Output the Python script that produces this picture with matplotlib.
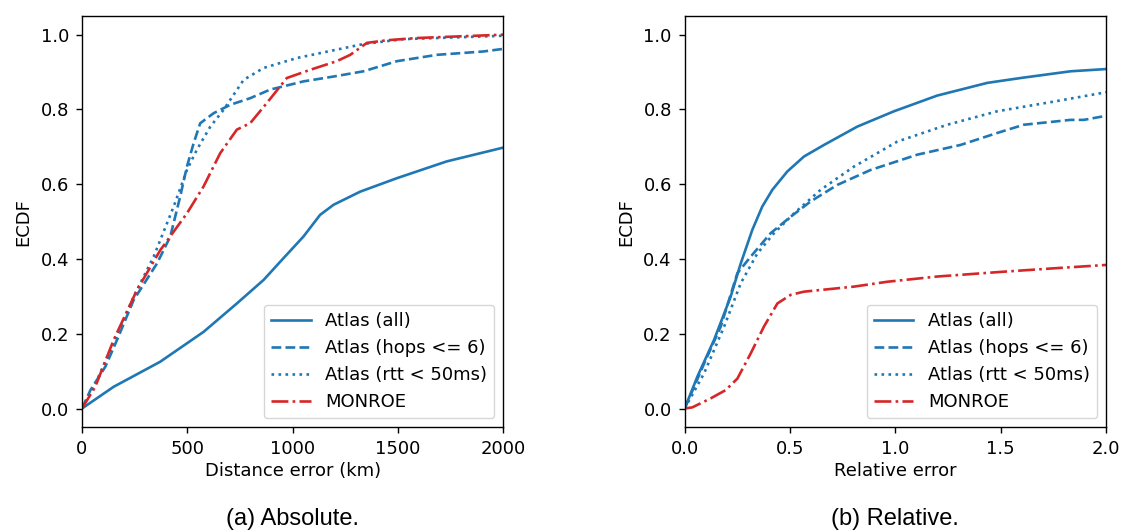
import matplotlib
matplotlib.use("Agg")
import matplotlib.pyplot as plt

# Absolute distance error (km) -> ECDF
abs_all_x = [0, 150, 371, 577, 735, 862, 956, 1051, 1130, 1194, 1320, 1494, 1731, 2000]
abs_all_y = [0, 0.058, 0.125, 0.205, 0.281, 0.344, 0.402, 0.46, 0.518, 0.545, 0.58, 0.616, 0.661, 0.698]

abs_hops_x = [0, 40, 111, 166, 245, 356, 419, 466, 498, 530, 561, 625, 704, 798, 893, 1051,
              1194, 1336, 1494, 1684, 1905, 2000]
abs_hops_y = [0, 0.049, 0.112, 0.183, 0.29, 0.388, 0.46, 0.567, 0.647, 0.71, 0.763, 0.79, 0.8125,
              0.83, 0.853, 0.875, 0.888, 0.902, 0.929, 0.946, 0.955, 0.962]

abs_rtt_x = [0, 71, 150, 245, 340, 435, 498, 545, 609, 672, 767, 862, 1020, 1209, 1336, 1526, 2000]
abs_rtt_y = [0, 0.076, 0.174, 0.299, 0.406, 0.54, 0.638, 0.692, 0.754, 0.799, 0.879, 0.911,
             0.9375, 0.96, 0.975, 0.988, 0.997]

abs_monroe_x = [0, 63, 150, 261, 372, 498, 577, 656, 735, 798, 877, 972, 1083, 1209, 1273, 1352,
                1447, 1589, 2000]
abs_monroe_y = [0, 0.058, 0.183, 0.317, 0.424, 0.522, 0.594, 0.683, 0.746, 0.763, 0.817, 0.884,
                0.906, 0.929, 0.946, 0.978, 0.985, 0.991, 1.0]

# Relative error -> ECDF
rel_all_x = [0, 0.06, 0.139, 0.218, 0.266, 0.321, 0.368, 0.416, 0.487, 0.566, 0.661, 0.819,
             0.993, 1.198, 1.436, 1.594, 1.831, 2.0]
rel_all_y = [0, 0.085, 0.183, 0.299, 0.388, 0.478, 0.54, 0.585, 0.634, 0.674, 0.705, 0.754,
             0.795, 0.837, 0.871, 0.884, 0.902, 0.908]

rel_hops_x = [0, 0.092, 0.171, 0.25, 0.313, 0.408, 0.503, 0.598, 0.724, 0.882, 1.104, 1.309,
              1.483, 1.609, 1.831, 1.894, 2.0]
rel_hops_y = [0, 0.12, 0.219, 0.362, 0.406, 0.469, 0.513, 0.554, 0.598, 0.638, 0.679, 0.705,
              0.737, 0.759, 0.772, 0.772, 0.783]

rel_rtt_x = [0, 0.092, 0.187, 0.266, 0.345, 0.424, 0.519, 0.645, 0.803, 1.009, 1.246, 1.483,
             1.752, 2.0]
rel_rtt_y = [0, 0.094, 0.219, 0.335, 0.415, 0.469, 0.522, 0.585, 0.647, 0.714, 0.759, 0.795,
             0.821, 0.846]

rel_monroe_x = [0, 0.036, 0.123, 0.194, 0.25, 0.313, 0.376, 0.44, 0.503, 0.566, 0.803, 0.961,
                1.198, 1.515, 1.752, 2.0]
rel_monroe_y = [0, 0.003, 0.027, 0.049, 0.08, 0.147, 0.219, 0.281, 0.304, 0.3125, 0.326, 0.339,
                0.353, 0.366, 0.375, 0.384]

labels = ["Atlas (all)", "Atlas (hops <= 6)", "Atlas (rtt < 50ms)", "MONROE"]
blue = "#1f77b4"
red = "#d62728"

plt.rcParams["font.size"] = 13
plt.rcParams["xtick.major.size"] = 4.3
plt.rcParams["ytick.major.size"] = 4.3
plt.rcParams["xtick.major.pad"] = 4.6
plt.rcParams["ytick.major.pad"] = 5.0
plt.rcParams["xtick.major.width"] = 1.0
plt.rcParams["ytick.major.width"] = 1.0
plt.rcParams["axes.linewidth"] = 1.0

fig, (ax1, ax2) = plt.subplots(1, 2, figsize=(11.23, 5.32), dpi=100)
fig.subplots_adjust(left=0.073, right=0.985, bottom=0.197, top=0.970, wspace=0.43)

lw = 1.9
ax1.plot(abs_all_x, abs_all_y, "-", color=blue, lw=lw, label=labels[0])
ax1.plot(abs_hops_x, abs_hops_y, "--", color=blue, lw=lw, label=labels[1])
ax1.plot(abs_rtt_x, abs_rtt_y, ":", color=blue, lw=lw, label=labels[2])
ax1.plot(abs_monroe_x, abs_monroe_y, "-.", color=red, lw=lw, label=labels[3])
ax1.set_xlim(0, 2000)
ax1.set_xticks([0, 500, 1000, 1500, 2000])
ax1.set_xlabel("Distance error (km)", labelpad=3)

ax2.plot(rel_all_x, rel_all_y, "-", color=blue, lw=lw, label=labels[0])
ax2.plot(rel_hops_x, rel_hops_y, "--", color=blue, lw=lw, label=labels[1])
ax2.plot(rel_rtt_x, rel_rtt_y, ":", color=blue, lw=lw, label=labels[2])
ax2.plot(rel_monroe_x, rel_monroe_y, "-.", color=red, lw=lw, label=labels[3])
ax2.set_xlim(0, 2)
ax2.set_xticks([0.0, 0.5, 1.0, 1.5, 2.0])
ax2.set_xlabel("Relative error", labelpad=3)

for ax in (ax1, ax2):
    ax.set_ylim(-0.05, 1.05)
    ax.set_yticks([0.0, 0.2, 0.4, 0.6, 0.8, 1.0])
    ax.set_ylabel("ECDF", labelpad=6)
    ax.legend(loc="lower right", handlelength=2.2)

# Sub-captions
for ax, cap in ((ax1, "(a) Absolute."), (ax2, "(b) Relative.")):
    pos = ax.get_position()
    fig.text((pos.x0 + pos.x1) / 2, 0.024, cap, ha="center", va="center",
             family="Liberation Sans", fontsize=17)

fig.savefig("out.png", dpi=100)
